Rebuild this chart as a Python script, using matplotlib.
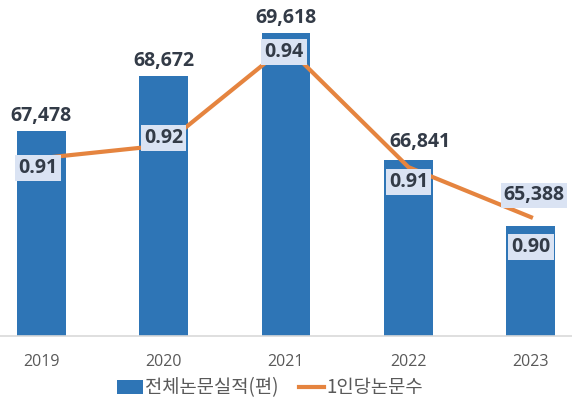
import numpy as np
import matplotlib
matplotlib.use('Agg')
import matplotlib.pyplot as plt

plt.rcParams['font.family'] = ['Open Sans', 'Noto Sans CJK KR', 'DejaVu Sans']

years = ['2019', '2020', '2021', '2022', '2023']
papers = [67478, 68672, 69618, 66841, 65388]
per_person = [0.9138, 0.9168, 0.94, 0.9117, 0.90]

bar_name = '전체논문실적(편)'
line_name = '1인당논문수'

blue = '#2E75B6'
orange = '#E5843F'
txt = '#333B47'
box = '#DAE3F3'

fig = plt.figure(figsize=(5.72, 4.08), dpi=100)
ax = fig.add_axes([0, 72/408, 1, 321/408])
x = np.arange(len(years))

ax.bar(x, papers, width=0.4, color=blue, label=bar_name, zorder=2)
ax.set_ylim(63000, 70000)
ax.set_xlim(-0.335, 4.335)
ax.set_xticks(x)
ax.set_xticklabels(years, fontsize=11.5, color='#595959')
ax.tick_params(axis='x', length=0, pad=13)
ax.set_yticks([])
for s in ['top', 'left', 'right']:
    ax.spines[s].set_visible(False)
ax.spines['bottom'].set_color('#D9D9D9')
ax.spines['bottom'].set_linewidth(1.2)

ax2 = ax.twinx()
ax2.plot(x, per_person, color=orange, lw=3, label=line_name, zorder=3)
ax2.set_ylim(0.8722, 0.9473)
ax2.set_yticks([])
for s in ax2.spines.values():
    s.set_visible(False)

# bar value labels (pixel offsets from bar tops)
bar_off = [(0, 10), (0, 10), (0, 10), (11, 13), (3, 26)]
for i, v in enumerate(papers):
    bb = None
    if i == 4:
        bb = dict(boxstyle='square,pad=0.12', fc=box, ec='none')
    ax2.annotate(f'{v:,}', xy=(i, v), xycoords=ax.transData,
                 xytext=bar_off[i], textcoords='offset pixels',
                 ha='center', va='baseline', fontsize=14, fontweight='bold',
                 color=txt, bbox=bb, zorder=5)

# per-person labels
line_off = [(-3, -15), (0, 2), (-2, -11), (0, -20), (0, -35)]
for i, v in enumerate(per_person):
    ax2.annotate(f'{v:.2f}', xy=(i, v), xytext=line_off[i],
                 textcoords='offset pixels', ha='center', va='baseline',
                 fontsize=14, fontweight='bold', color=txt,
                 bbox=dict(boxstyle='square,pad=0.16', fc=box, ec='none'),
                 zorder=6)

h1, l1 = ax.get_legend_handles_labels()
h2, l2 = ax2.get_legend_handles_labels()
fig.legend(h1 + h2, l1 + l2, loc='center', bbox_to_anchor=(270/572, 1 - 388/408),
           ncol=2, frameon=False, handlelength=1.35, handletextpad=0.1,
           columnspacing=1.1, labelcolor='#595959',
           prop={'family': 'Noto Sans CJK KR', 'size': 13.5})

fig.savefig('out.png', dpi=100)
